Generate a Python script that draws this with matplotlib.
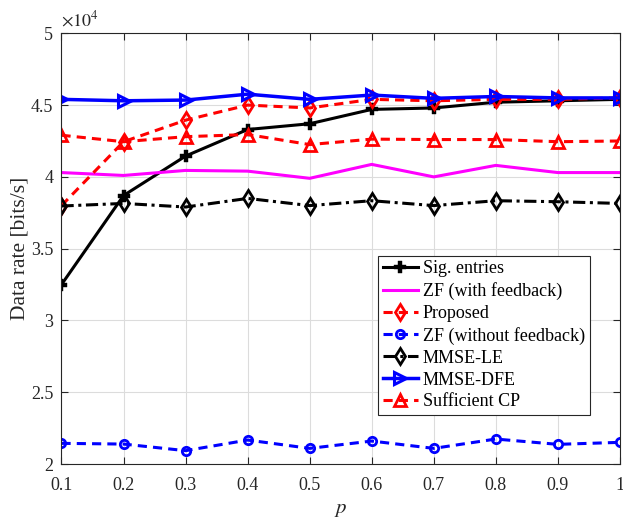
import matplotlib
matplotlib.use("Agg")
import matplotlib.pyplot as plt
from matplotlib.ticker import FuncFormatter

plt.rcParams['font.family'] = ['Liberation Serif', 'DejaVu Serif']
plt.rcParams['mathtext.fontset'] = 'stix'

p = [0.1, 0.2, 0.3, 0.4, 0.5, 0.6, 0.7, 0.8, 0.9, 1.0]
sig_entries = [32500, 38700, 41450, 43300, 43700, 44700, 44800, 45200, 45300, 45400]
zf_with_fb = [40300, 40100, 40450, 40400, 39900, 40870, 40000, 40800, 40300, 40300]
proposed = [38000, 42450, 43950, 45000, 44800, 45400, 45300, 45400, 45400, 45500]
zf_without_fb = [21440, 21390, 20930, 21670, 21090, 21600, 21090, 21740, 21370, 21510]
mmse_le = [37970, 38150, 37900, 38500, 38000, 38340, 38000, 38340, 38270, 38150]
mmse_dfe = [45400, 45300, 45350, 45760, 45400, 45700, 45470, 45600, 45500, 45500]
sufficient_cp = [42900, 42450, 42800, 42950, 42250, 42630, 42600, 42600, 42450, 42500]

xticks = [0.1, 0.2, 0.3, 0.4, 0.5, 0.6, 0.7, 0.8, 0.9, 1.0]
xticklabels = ['0.1', '0.2', '0.3', '0.4', '0.5', '0.6', '0.7', '0.8', '0.9', '1']
yticks = [20000, 25000, 30000, 35000, 40000, 45000, 50000]

fig = plt.figure(figsize=(6.23, 5.18), dpi=100)
ax = fig.add_axes([0.0987, 0.1042, 0.8963, 0.8315])

lw = 2.2
ax.plot(p, sig_entries, color='black', linestyle='-', lw=lw, marker='P', ms=8,
        markerfacecolor='black', markeredgewidth=0.3, label='Sig. entries')
ax.plot(p, zf_with_fb, color='#ff00ff', linestyle='-', lw=lw, label='ZF (with feedback)')
ax.plot(p, proposed, color='red', linestyle=(0, (3, 2)), lw=lw, marker='d', ms=8,
        markerfacecolor='none', markeredgewidth=2, label='Proposed')
ax.plot(p, zf_without_fb, color='blue', linestyle=(0, (3, 2)), lw=lw, marker='o', ms=6,
        markerfacecolor='none', markeredgewidth=2, label='ZF (without feedback)')
ax.plot(p, mmse_le, color='black', linestyle=(0, (4, 1.5, 1, 1.5)), lw=lw, marker='d', ms=8,
        markerfacecolor='none', markeredgewidth=2, label='MMSE-LE')
ax.plot(p, mmse_dfe, color='blue', linestyle='-', lw=lw + 0.3, marker='>', ms=9,
        markerfacecolor='none', markeredgewidth=2.2, label='MMSE-DFE')
ax.plot(p, sufficient_cp, color='red', linestyle=(0, (3, 2)), lw=lw, marker='^', ms=8,
        markerfacecolor='none', markeredgewidth=2, label='Sufficient CP')

ax.set_xlim(0.1, 1.0)
ax.set_ylim(20000, 50000)
ax.set_xticks(xticks)
ax.set_xticklabels(xticklabels)
ax.set_yticks(yticks)
ax.yaxis.set_major_formatter(FuncFormatter(lambda v, pos: ('%g' % (v / 1e4))))
ax.grid(True, color='#dcdcdc', linewidth=0.8)
ax.set_axisbelow(True)
ax.tick_params(direction='in', top=True, right=True, labelsize=13, length=5, width=0.8,
               colors='#262626', labelcolor='#262626')
ax.tick_params(axis='x', pad=9)
ax.tick_params(axis='y', pad=6)
for s in ax.spines.values():
    s.set_color('#262626')
    s.set_linewidth(0.8)

ax.set_xlabel('$p$', fontsize=15, color='#262626', labelpad=5)
ax.set_ylabel('Data rate [bits/s]', fontsize=15.5, color='#262626', labelpad=1)
ax.text(0.0, 1.008, r'$\times10^{4}$', transform=ax.transAxes, fontsize=13,
        color='#262626', ha='left', va='bottom')

leg = ax.legend(loc='lower left', bbox_to_anchor=(0.567, 0.114), fontsize=13,
                frameon=True, fancybox=False, edgecolor='#262626', framealpha=1,
                handlelength=1.95, handletextpad=0.28, labelspacing=0.27,
                borderpad=0.25, borderaxespad=0)
leg.get_frame().set_linewidth(0.8)

fig.savefig('out.png', dpi=100)
